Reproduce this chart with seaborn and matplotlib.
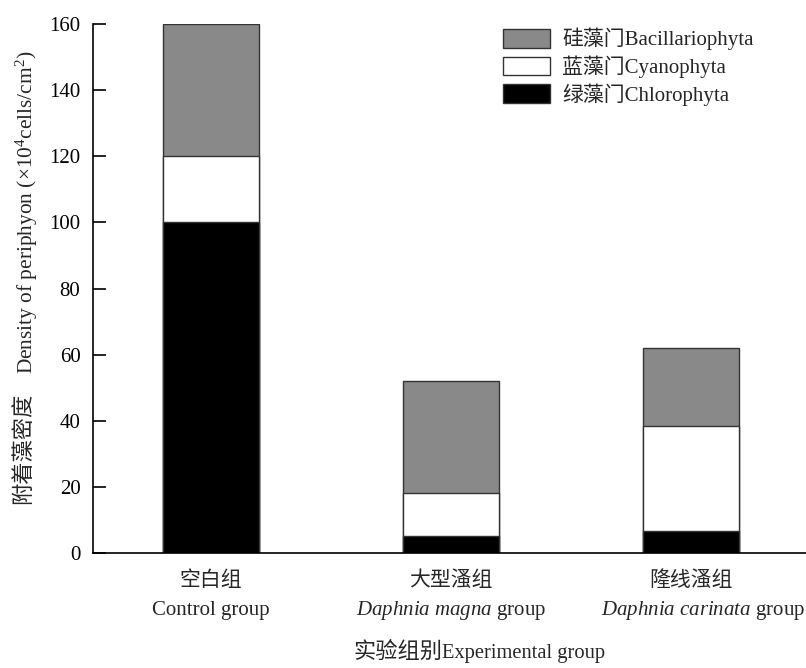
import matplotlib
matplotlib.use("Agg")
import matplotlib.pyplot as plt
from matplotlib.patches import Patch
import seaborn as sns
import pandas as pd

sns.set_style("ticks")
plt.rcParams["font.family"] = ["Liberation Serif", "Noto Sans CJK SC", "DejaVu Sans"]
plt.rcParams["mathtext.fontset"] = "custom"
plt.rcParams["mathtext.rm"] = "Liberation Serif"
plt.rcParams["mathtext.it"] = "Liberation Serif:italic"

groups_cn = ["空白组", "大型溞组", "隆线溞组"]
groups_en = ["Control group", r"$\it{Daphnia\ magna}$ group", r"$\it{Daphnia\ carinata}$ group"]
chlorophyta = [100.0, 5.2, 6.8]
cyanophyta = [20.0, 13.0, 31.6]
bacillariophyta = [40.0, 33.7, 23.5]

series_labels = ["绿藻门Chlorophyta", "蓝藻门Cyanophyta", "硅藻门Bacillariophyta"]
series_colors = ["#000000", "#ffffff", "#898989"]
yticks = [0, 20, 40, 60, 80, 100, 120, 140, 160]

df = pd.DataFrame({
    "group": groups_cn,
    "chl": chlorophyta,
    "cya": cyanophyta,
    "bac": bacillariophyta,
})
df["top_cya"] = df["chl"] + df["cya"]
df["top_bac"] = df["top_cya"] + df["bac"]

W, H = 806, 668
fig = plt.figure(figsize=(W / 100, H / 100), dpi=100)
ax = fig.add_axes([93 / W, 115 / H, 713 / W, 529 / H])

edge = "#333333"
# stacked bars drawn as overlapping cumulative totals
for col, color in [("top_bac", series_colors[2]), ("top_cya", series_colors[1]), ("chl", series_colors[0])]:
    sns.barplot(data=df, x="group", y=col, color=color, width=0.4, ax=ax,
                edgecolor=edge, linewidth=1.0, saturation=1, errorbar=None)

ax.set_xlim(-0.49, 2.48)
ax.set_ylim(0, 160)
ax.set_yticks(yticks)
ax.tick_params(axis="y", direction="in", length=9, width=1.2, pad=9, labelsize=15, colors="black")
ax.tick_params(axis="x", length=0, pad=13, labelsize=15)
ax.set_xticks(range(3))
ax.set_xticklabels(groups_cn)
for s in ["top", "right"]:
    ax.spines[s].set_visible(False)
for s in ["left", "bottom"]:
    ax.spines[s].set_linewidth(1.2)
    ax.spines[s].set_color("black")

en_offsets = [0.0, 0.0, 0.05]
for i, t in enumerate(groups_en):
    ax.text(i + en_offsets[i], -17.3, t, ha="center", va="center", fontsize=15, transform=ax.transData)

ax.set_xlabel("")
ax.set_ylabel("")

# x-axis title: Chinese part and English part on a shared baseline
fig.text(442 / W, 1 - 658 / H, "实验组别", ha="right", va="baseline", fontsize=16)
fig.text(442 / W, 1 - 658 / H, "Experimental group", ha="left", va="baseline", fontsize=14.8)

# y-axis title: Chinese part and English part
fig.text(24 / W, 1 - 448 / H, "附着藻密度", rotation=90, ha="center", va="center", fontsize=16)
fig.text(27 / W, 1 - 212 / H, "Density of periphyon (×10$^4$cells/cm$^2$)", rotation=90,
         ha="center", va="center", fontsize=15.4)

handles = [Patch(facecolor=series_colors[i], edgecolor=edge, linewidth=1.0, label=series_labels[i])
           for i in [2, 1, 0]]
leg = ax.legend(handles=handles, loc="upper left", bbox_to_anchor=((503 - 93) / 713, 1 - 4 / 529),
                frameon=False, fontsize=15, handlelength=2.25, handleheight=1.0,
                labelspacing=0.25, handletextpad=0.6, borderaxespad=0, borderpad=0)

fig.savefig("out.png", dpi=100)
